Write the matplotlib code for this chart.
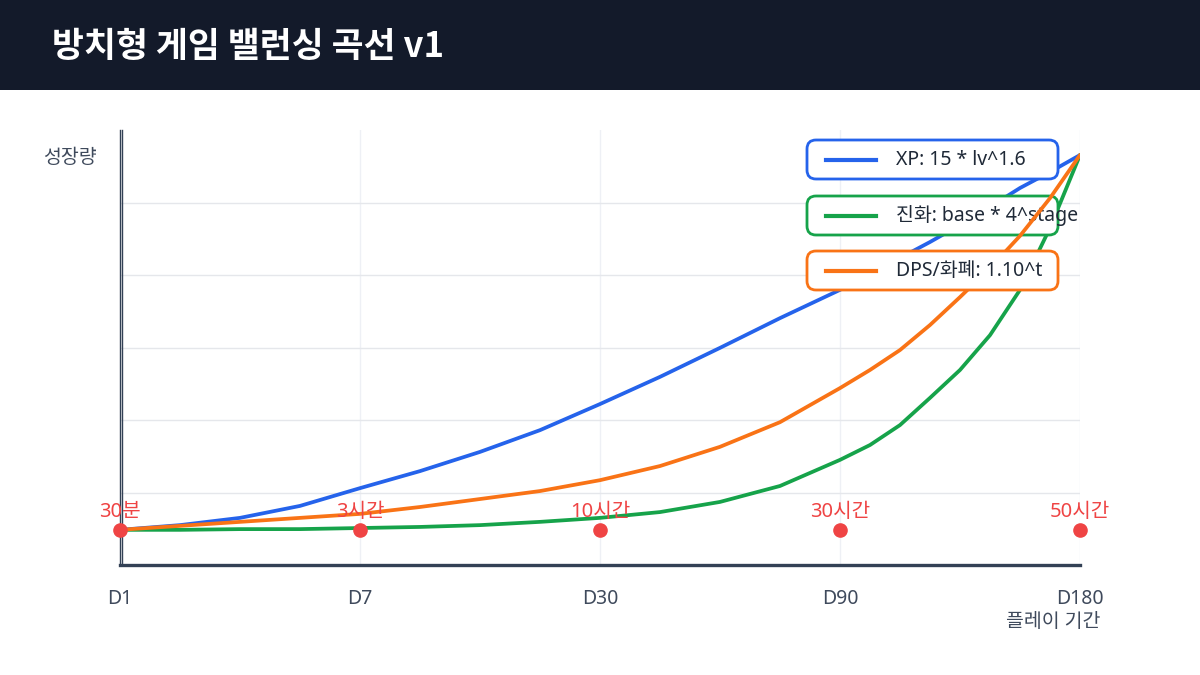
import matplotlib
matplotlib.use("Agg")
import matplotlib.pyplot as plt
import matplotlib.transforms as mtransforms
from matplotlib.patches import Rectangle, FancyBboxPatch

plt.rcParams['font.family'] = ['Noto Sans', 'Noto Sans CJK KR', 'DejaVu Sans']

# progress position along the play period (0 = D1 ... 4 = D180)
x_pos = [0, 0.25, 0.5, 0.75, 1, 1.25, 1.5, 1.75, 2, 2.25, 2.5, 2.75,
         3, 3.125, 3.25, 3.375, 3.5, 3.625, 3.75, 3.875, 4]
xp_vals = [9.7, 11.0, 13.0, 16.3, 21.2, 25.9, 31.2, 37.2, 44.4, 51.9, 59.9, 68.1,
           75.9, 80.6, 84.7, 89.1, 93.8, 98.8, 104.0, 108.4, 113.1]
evo_vals = [9.7, 9.7, 9.9, 9.9, 10.2, 10.5, 11.0, 11.9, 13.0, 14.6, 17.4, 21.8,
            29.0, 33.1, 38.6, 46.1, 53.8, 63.4, 75.9, 93.0, 113.1]
dps_vals = [9.7, 10.8, 11.9, 13.0, 14.1, 16.0, 18.2, 20.4, 23.4, 27.3, 32.6, 39.4,
            48.8, 53.8, 59.3, 66.2, 73.9, 81.9, 90.8, 101.2, 113.1]

day_labels = ['D1', 'D7', 'D30', 'D90', 'D180']
milestone_x = [0, 1, 2, 3, 4]
milestone_y = [9.7, 9.7, 9.7, 9.7, 9.7]
milestone_labels = ['30분', '3시간', '10시간', '30시간', '50시간']

series_names = ['XP: 15 * lv^1.6', '진화: base * 4^stage', 'DPS/화폐: 1.10^t']
colors = ['#2563eb', '#16a34a', '#f97316']

W, H = 1200, 675
fig = plt.figure(figsize=(12, 6.75), dpi=100)
fig.patch.set_facecolor('white')

# header band
fig.patches.append(Rectangle((0, 1 - 90 / H), 1, 90 / H, transform=fig.transFigure,
                             facecolor='#131a2a', edgecolor='none', zorder=0))
fig.text(52 / W, 1 - 47 / H, '방치형 게임 밸런싱 곡선 v1', color='white', fontsize=25,
         fontweight='bold', va='center', ha='left', family=['Noto Sans CJK KR'])

ax = fig.add_axes([120 / W, 1 - 565 / H, 960 / W, 435 / H])
ax.set_xlim(0, 4)
ax.set_ylim(0, 120)

ax.set_yticks([20, 40, 60, 80, 100])
ax.set_yticklabels([])
ax.tick_params(axis='y', length=0)
ax.set_xticks(range(len(day_labels)))
ax.set_xticklabels(day_labels, fontsize=14, color='#3f4a5c')
ax.tick_params(axis='x', length=0, pad=17)
ax.grid(True, axis='y', color='#e5e7eb', linewidth=1)
ax.grid(True, axis='x', color='#eef0f5', linewidth=1)
ax.set_axisbelow(True)

for s in ['top', 'right']:
    ax.spines[s].set_visible(False)
ax.spines['bottom'].set_color('#334155')
ax.spines['bottom'].set_linewidth(2.4)
ax.spines['left'].set_color('#334155')
ax.spines['left'].set_linewidth(1)
# second thin line of the double y axis
off = mtransforms.offset_copy(ax.transAxes, fig=fig, x=2, y=0, units='dots')
ax.plot([0, 0], [0, 1], color='#334155', lw=1, transform=off, clip_on=False, zorder=3)

ax.plot(x_pos, xp_vals, color=colors[0], lw=2.7, zorder=2, solid_capstyle='round')
ax.plot(x_pos, evo_vals, color=colors[1], lw=2.7, zorder=2, solid_capstyle='round')
ax.plot(x_pos, dps_vals, color=colors[2], lw=2.7, zorder=4, solid_capstyle='round')

ax.plot(milestone_x, milestone_y, linestyle='none', marker='o', markersize=9.5,
        color='#ef4444', zorder=6, clip_on=False)
for mx, my, lab in zip(milestone_x, milestone_y, milestone_labels):
    ax.annotate(lab, (mx, my), xytext=(0, 6), textcoords='offset points',
                ha='center', va='bottom', fontsize=14.5, color='#ef4444', zorder=6)

# pixel coordinates (origin top-left) for legend boxes
px = mtransforms.Affine2D().scale(1 / W, -1 / H).translate(0, 1) + fig.transFigure
box_tops = [140, 196, 251]
box_z = [3, 3, 5]
for name, c, top, z in zip(series_names, colors, box_tops, box_z):
    box = FancyBboxPatch((807, top), 251, 39, boxstyle='round,pad=0,rounding_size=9',
                         transform=px, facecolor='white', edgecolor=c, linewidth=2,
                         clip_on=False, zorder=z)
    ax.add_patch(box)
    ax.plot([826, 876], [top + 19.5, top + 19.5], color=c, lw=3, transform=px,
            clip_on=False, zorder=z)
    ax.text(896, top + 20, name, transform=px, fontsize=14, color='#1f2937',
            va='center', ha='left', zorder=z, clip_on=False)

fig.text(1100 / W, 1 - 622 / H, '플레이 기간', fontsize=14, color='#3f4a5c',
         ha='right', va='center')
fig.text(70 / W, 1 - 158 / H, '성장량', fontsize=14, color='#3f4a5c',
         ha='center', va='center')

fig.savefig('out.png', dpi=100)
